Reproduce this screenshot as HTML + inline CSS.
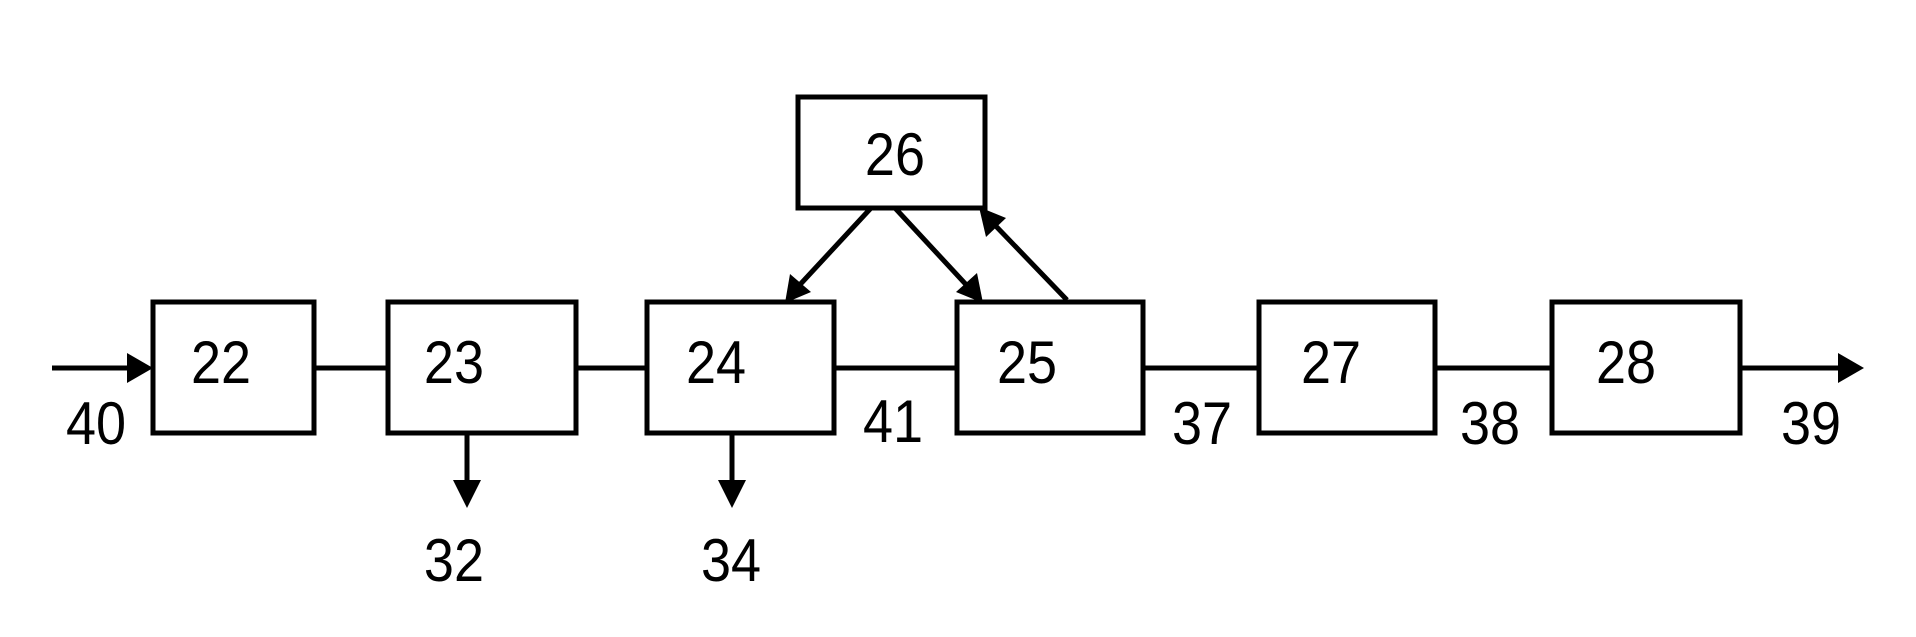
<!DOCTYPE html>
<html><head><meta charset="utf-8"><style>
html,body{margin:0;padding:0;background:#fff;}
svg{display:block;}
text{font-family:"Liberation Sans",sans-serif;font-size:60px;fill:#000;text-anchor:middle;dominant-baseline:central;}
</style></head><body>
<svg width="1916" height="637" viewBox="0 0 1916 637" xmlns="http://www.w3.org/2000/svg">
<g fill="none" stroke="#000" stroke-width="5">
<rect x="153" y="302" width="161" height="131"/>
<rect x="388" y="302" width="188" height="131"/>
<rect x="647" y="302" width="187" height="131"/>
<rect x="957" y="302" width="186" height="131"/>
<rect x="1259" y="302" width="176" height="131"/>
<rect x="1552" y="302" width="188" height="131"/>
<rect x="798" y="97" width="187" height="111"/>
<line x1="52" y1="368" x2="140" y2="368"/>
<line x1="314" y1="368" x2="388" y2="368"/>
<line x1="576" y1="368" x2="647" y2="368"/>
<line x1="834" y1="368" x2="957" y2="368"/>
<line x1="1143" y1="368" x2="1259" y2="368"/>
<line x1="1435" y1="368" x2="1552" y2="368"/>
<line x1="1740" y1="368" x2="1848" y2="368"/>
<line x1="467" y1="434" x2="467" y2="490"/>
<line x1="732" y1="434" x2="732" y2="490"/>
<line x1="871" y1="208" x2="795" y2="290"/>
<line x1="895" y1="208" x2="972" y2="291"/>
<line x1="1067" y1="300" x2="990" y2="220"/>
</g>
<g fill="#000">
<polygon points="153,368 127,353 127,383"/>
<polygon points="1864,368 1838,353 1838,383"/>
<polygon points="467,508 453,480 481,480"/>
<polygon points="732,508 718,480 746,480"/>
<polygon points="785,303 790,274 811,292"/>
<polygon points="983,303 956,292 977,273"/>
<polygon points="979,207 1006,218 986,237"/>
</g>
<g transform="scale(0.9,1)">
<text x="245.6" y="363">22</text>
<text x="504.4" y="363">23</text>
<text x="795.6" y="363">24</text>
<text x="1141.1" y="363">25</text>
<text x="1478.9" y="363">27</text>
<text x="1806.7" y="363">28</text>
<text x="994.4" y="155">26</text>
<text x="106.7" y="424">40</text>
<text x="992.2" y="422">41</text>
<text x="1335.6" y="424">37</text>
<text x="1655.6" y="424">38</text>
<text x="2012.2" y="424">39</text>
<text x="504.4" y="561">32</text>
<text x="812.2" y="561">34</text>
</g>
</svg>
</body></html>
